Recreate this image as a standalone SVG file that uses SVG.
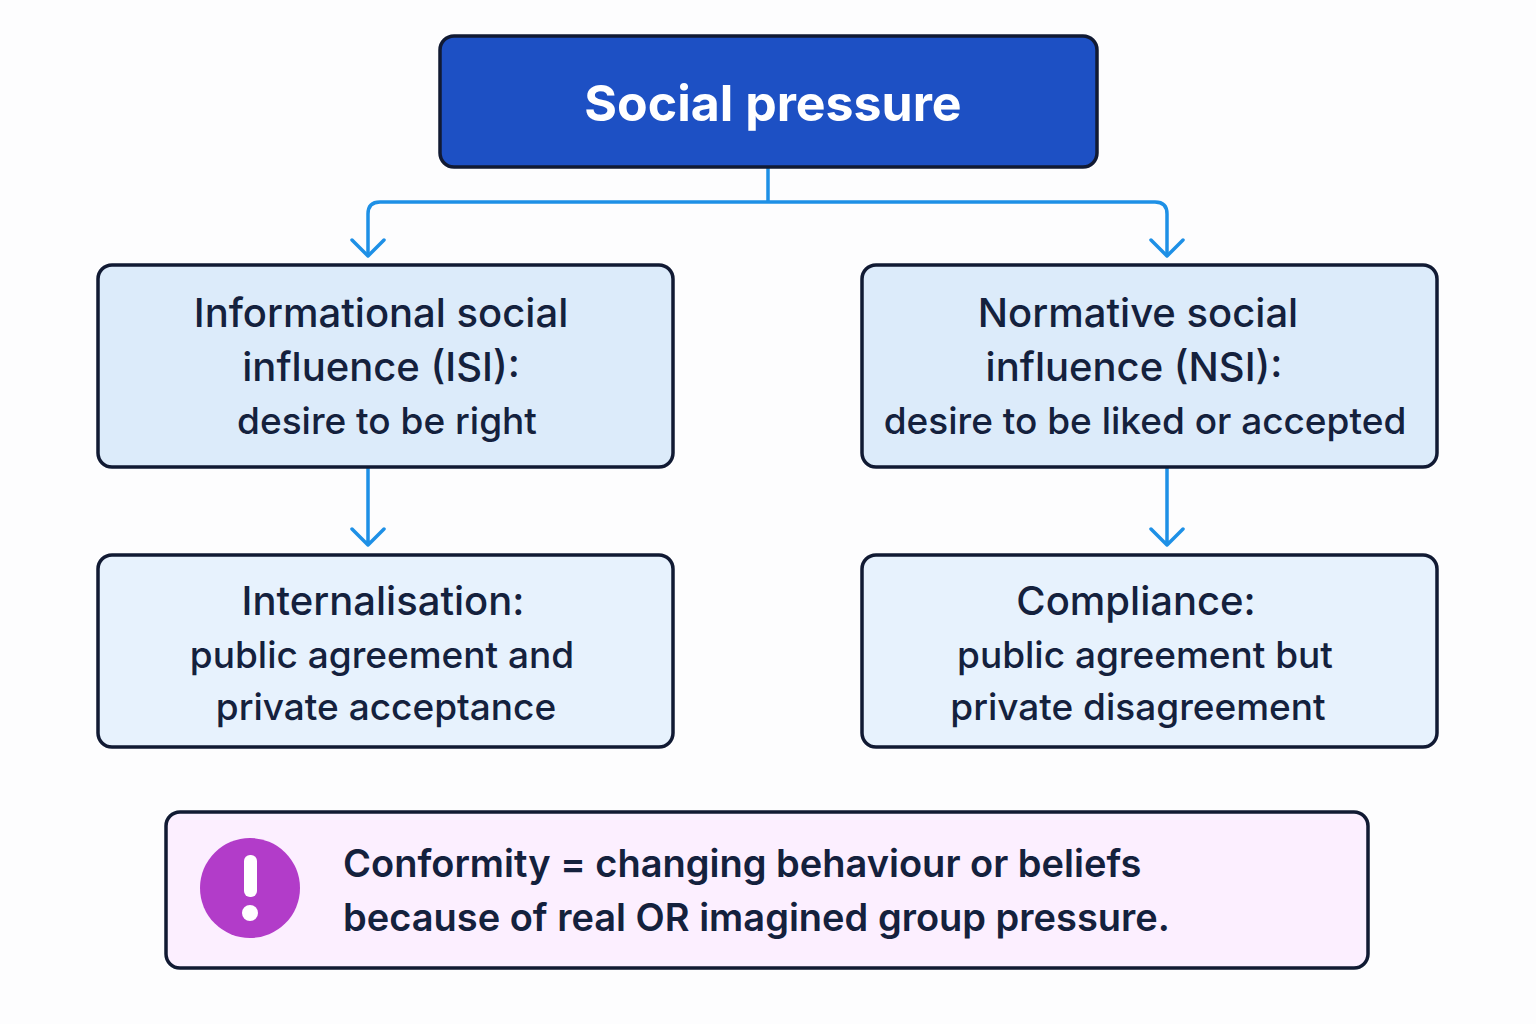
<svg xmlns="http://www.w3.org/2000/svg" width="1536" height="1024" viewBox="0 0 1536 1024">
<defs>
<style>
.box{stroke:#111a33;stroke-width:3.5}
.t{font-family:Inter,"Noto Sans",sans-serif;fill:#14213d;text-anchor:middle;font-weight:500}
.c{fill:none;stroke:#1e90e6;stroke-width:3.5;stroke-linecap:round;stroke-linejoin:round}
</style>
<marker id="a" viewBox="0 0 20 20" refX="10" refY="14" markerWidth="20" markerHeight="20" markerUnits="userSpaceOnUse" orient="auto-start-reverse">
</marker>
</defs>
<rect width="1536" height="1024" fill="#fdfdfe"/>
<g id="connectors" class="c">
<path d="M768 167V202M368 255V214Q368 202 380 202H1155Q1167 202 1167 214V255"/>
<path d="M352 240L368 256L384 240M1151 240L1167 256L1183 240"/>
<path d="M368 468V545M352 529L368 545L384 529"/>
<path d="M1167 468V545M1151 529L1167 545L1183 529"/>
</g>
<g id="top">
<rect class="box" x="440" y="36" width="657" height="131" rx="14" fill="#1d50c4"/>
<text x="773" y="121" font-family="Inter,'Noto Sans',sans-serif" font-weight="700" font-size="50" fill="#fff" text-anchor="middle">Social pressure</text>
</g>
<g id="isi">
<rect class="box" x="98" y="265" width="575" height="202" rx="14" fill="#dcebfa"/>
<text class="t" x="381" y="327" font-size="40">Informational social</text>
<text class="t" x="381" y="381" font-size="40">influence (ISI):</text>
<text class="t" x="387" y="434" font-size="37">desire to be right</text>
</g>
<g id="nsi">
<rect class="box" x="862" y="265" width="575" height="202" rx="14" fill="#dcebfa"/>
<text class="t" x="1138" y="327" font-size="40">Normative social</text>
<text class="t" x="1134" y="381" font-size="40">influence (NSI):</text>
<text class="t" x="1145" y="434" font-size="37">desire to be liked or accepted</text>
</g>
<g id="internalisation">
<rect class="box" x="98" y="555" width="575" height="192" rx="14" fill="#e7f2fd"/>
<text class="t" x="383" y="615" font-size="40">Internalisation:</text>
<text class="t" x="382" y="668" font-size="37">public agreement and</text>
<text class="t" x="386" y="720" font-size="37">private acceptance</text>
</g>
<g id="compliance">
<rect class="box" x="862" y="555" width="575" height="192" rx="14" fill="#e7f2fd"/>
<text class="t" x="1136" y="615" font-size="40">Compliance:</text>
<text class="t" x="1145" y="668" font-size="37">public agreement but</text>
<text class="t" x="1138" y="720" font-size="37">private disagreement</text>
</g>
<g id="note">
<rect class="box" x="166" y="812" width="1202" height="156" rx="14" fill="#fcefff"/>
<circle cx="250" cy="888" r="50" fill="#b23cc9"/>
<rect x="244" y="855" width="13" height="42" rx="6" fill="#fff"/>
<circle cx="250" cy="913" r="8" fill="#fff"/>
<text x="343" y="877" font-family="Inter,'Noto Sans',sans-serif" font-weight="600" font-size="38" fill="#14213d">Conformity = changing behaviour or beliefs</text>
<text x="343" y="931" font-family="Inter,'Noto Sans',sans-serif" font-weight="600" font-size="38" fill="#14213d">because of real OR imagined group pressure.</text>
</g>
</svg>
